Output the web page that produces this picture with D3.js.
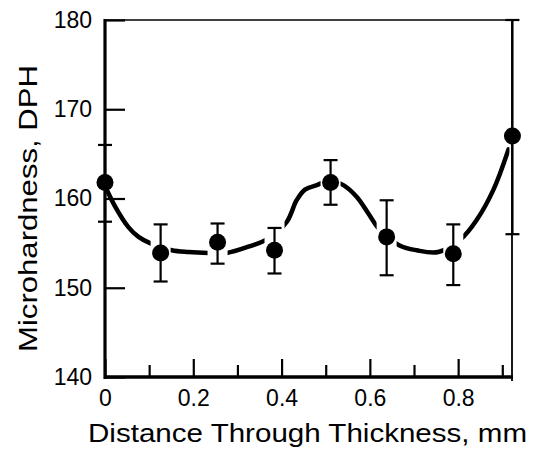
<!DOCTYPE html>
<html>
<head>
<meta charset="utf-8">
<script src="https://cdn.jsdelivr.net/npm/d3@7"></script>
<style>
  html, body { margin: 0; padding: 0; background: #fff; }
  svg { display: block; }
  text { font-family: "Liberation Sans", Arial, sans-serif; fill: #000; }
</style>
</head>
<body>
<svg id="chart" width="537" height="453"></svg>
<script>
// ---- data ----
const distance = [0, 0.126, 0.255, 0.384, 0.511, 0.638, 0.789, 0.923];      // mm
const hardness = [161.8, 153.9, 155.1, 154.2, 161.8, 155.7, 153.8, 167.0]; // DPH
const errLow   = [157.4, 150.7, 152.7, 151.6, 159.3, 151.4, 150.3, 156.0];
const errHigh  = [166.0, 157.1, 157.2, 156.7, 164.3, 159.8, 157.1, 180.0];

// hand-drawn fitted curve
const fitX = [0, 0.023, 0.053, 0.076, 0.102, 0.151, 0.189, 0.234, 0.276, 0.325, 0.370,
              0.412, 0.434, 0.453, 0.480, 0.510, 0.540, 0.570, 0.597, 0.619, 0.665,
              0.706, 0.755, 0.805, 0.842, 0.880, 0.914];
const fitY = [161.4, 159.1, 156.8, 155.7, 155.0, 154.2, 154.0, 153.9, 153.9, 154.6, 155.5,
              157.4, 159.8, 161.0, 161.5, 162.0, 161.5, 160.2, 158.3, 156.7, 154.8,
              154.2, 154.0, 155.4, 157.6, 161.0, 165.5];

const xMajorTicks = [0, 0.2, 0.4, 0.6, 0.8];
const xMinorTicks = [0.1, 0.3, 0.5, 0.7, 0.9];
const yTicks = [140, 150, 160, 170, 180];
const xDomain = [0, 0.922];
const yDomain = [140, 180];
const xTitle = "Distance Through Thickness, mm";
const yTitle = "Microhardness, DPH";

// ---- layout ----
const svg = d3.select("#chart");
const mLeft = 105, mRight = 512, mTop = 20, mBottom = 377;
const x = d3.scaleLinear().domain(xDomain).range([mLeft, mRight]);
const y = d3.scaleLinear().domain(yDomain).range([mBottom, mTop]);

svg.append("rect").attr("width", 537).attr("height", 453).attr("fill", "#fff");

// x axis major ticks with labels
const gxMajor = svg.append("g").attr("transform", `translate(0,${mBottom})`)
  .call(d3.axisBottom(x).tickValues(xMajorTicks).tickSize(-18).tickPadding(13)
    .tickFormat(d => d === 0 ? "0" : d3.format(".1f")(d)));
gxMajor.select(".domain").remove();
gxMajor.selectAll(".tick line").attr("stroke", "#000").attr("stroke-width", 2.2);
gxMajor.selectAll(".tick text").attr("font-size", 23).attr("font-family", "Liberation Sans, Arial, sans-serif");

// x axis minor ticks
const gxMinor = svg.append("g").attr("transform", `translate(0,${mBottom})`)
  .call(d3.axisBottom(x).tickValues(xMinorTicks).tickSize(-12).tickFormat(""));
gxMinor.select(".domain").remove();
gxMinor.selectAll(".tick line").attr("stroke", "#000").attr("stroke-width", 2.2);

// y axis
const gy = svg.append("g").attr("transform", `translate(${mLeft},0)`)
  .call(d3.axisLeft(y).tickValues(yTicks).tickSize(-20).tickPadding(13).tickFormat(d3.format("d")));
gy.select(".domain").remove();
gy.selectAll(".tick line").attr("stroke", "#000").attr("stroke-width", 2.2);
gy.selectAll(".tick text").attr("font-size", 23).attr("font-family", "Liberation Sans, Arial, sans-serif");

// frame
svg.append("line").attr("x1", mLeft).attr("x2", mLeft).attr("y1", mTop - 1).attr("y2", mBottom + 2)
  .attr("stroke", "#000").attr("stroke-width", 3.2);
svg.append("line").attr("x1", mLeft - 1).attr("x2", mRight + 1).attr("y1", mBottom).attr("y2", mBottom)
  .attr("stroke", "#000").attr("stroke-width", 3.4);
svg.append("line").attr("x1", mLeft).attr("x2", mRight).attr("y1", mTop).attr("y2", mTop)
  .attr("stroke", "#000").attr("stroke-width", 1.6);
svg.append("line").attr("x1", mRight).attr("x2", mRight).attr("y1", mTop).attr("y2", mBottom + 4)
  .attr("stroke", "#000").attr("stroke-width", 1.8);

// fitted curve, broken around every data point
const gap = 10;
const clip = svg.append("defs").append("clipPath").attr("id", "gaps");
for (let i = 0; i < distance.length - 1; i++) {
  const x0 = i === 0 ? x(distance[i]) - 5 : x(distance[i]) + gap;
  const x1 = i === distance.length - 2 ? x(distance[i + 1]) - 3 : x(distance[i + 1]) - gap;
  clip.append("rect").attr("x", x0).attr("y", 0).attr("width", x1 - x0).attr("height", 453);
}
const fit = fitX.map((d, i) => [d, fitY[i]]);
svg.append("path")
  .attr("d", d3.line().x(d => x(d[0])).y(d => y(d[1])).curve(d3.curveCatmullRom)(fit))
  .attr("fill", "none").attr("stroke", "#000").attr("stroke-width", 4.5)
  .attr("stroke-linecap", "round").attr("clip-path", "url(#gaps)");

// error bars
const capW = 7;
const eb = svg.append("g").attr("stroke", "#000").attr("stroke-width", 2.2);
distance.forEach((d, i) => {
  eb.append("line").attr("x1", x(d)).attr("x2", x(d)).attr("y1", y(errLow[i])).attr("y2", y(errHigh[i]));
  eb.append("line").attr("x1", x(d) - capW).attr("x2", x(d) + capW).attr("y1", y(errLow[i])).attr("y2", y(errLow[i]));
  eb.append("line").attr("x1", x(d) - capW).attr("x2", x(d) + capW).attr("y1", y(errHigh[i])).attr("y2", y(errHigh[i]));
});

// points
svg.append("g").selectAll("circle").data(distance).join("circle")
  .attr("cx", d => x(d)).attr("cy", (d, i) => y(hardness[i])).attr("r", 8.5).attr("fill", "#000");

// axis titles
svg.append("text").attr("x", 88).attr("y", 442).attr("font-size", 25)
  .attr("textLength", 439).attr("lengthAdjust", "spacingAndGlyphs").text(xTitle);
svg.append("text").attr("transform", "translate(37,352) rotate(-90)").attr("font-size", 26)
  .attr("textLength", 287).attr("lengthAdjust", "spacingAndGlyphs").text(yTitle);
</script>
</body>
</html>
